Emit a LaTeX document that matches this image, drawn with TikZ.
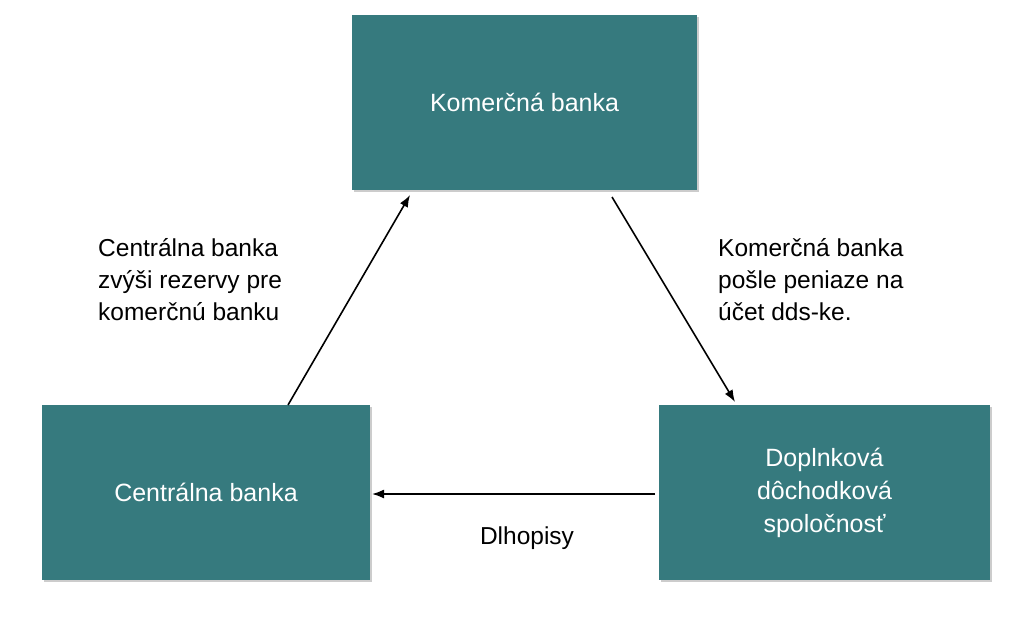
\documentclass[tikz,border=0pt]{standalone}
\usepackage{fontspec}
\setmainfont{Liberation Sans}
\usetikzlibrary{shadows,arrows.meta}
\definecolor{tealbox}{HTML}{367A7E}
\tikzset{
  teal box/.style={
    fill=tealbox,
    text=white,
    minimum width=#1,
    minimum height=175pt,
    align=center,
    font=\fontsize{25}{33}\selectfont,
    drop shadow={shadow xshift=2pt,shadow yshift=-2pt,fill=gray!40,opacity=1},
  },
  caption/.style={
    align=left,
    font=\fontsize{24.5}{32}\selectfont,
  },
  flow/.style={-{Latex[length=12pt,width=9pt]}, line width=1.6pt},
}
\begin{document}
\begin{tikzpicture}[x=1pt,y=-1pt]
        \useasboundingbox (0,0) rectangle (1024,630);
        \node [teal box=345pt] (kb) at (524.5,102.5) {Komerčná banka};
        \node [teal box=328pt] (cb) at (206,492.5) {Centrálna banka};
        \node [teal box=331pt] (dds) at (824.5,492.5) {Doplnková\\dôchodková\\spoločnosť};

        \draw [flow] (288,405) -- (410,195);
        \draw [flow] (612,197) -- (735,402);
        \coordinate (d1) at (655,494);
        \coordinate (c1) at (372,494);
        \draw [flow] (d1) -- (c1);

        \node [caption, anchor=north west, inner sep=0pt] (t1) at (98,238) {Centrálna banka\\zvýši rezervy pre\\komerčnú banku};
        \node [caption, anchor=north west, inner sep=0pt] (t2) at (718,238) {Komerčná banka\\pošle peniaze na\\účet dds-ke.};
        \node [caption] (t3) at (527,538) {Dlhopisy};
      \end{tikzpicture}
\end{document}
